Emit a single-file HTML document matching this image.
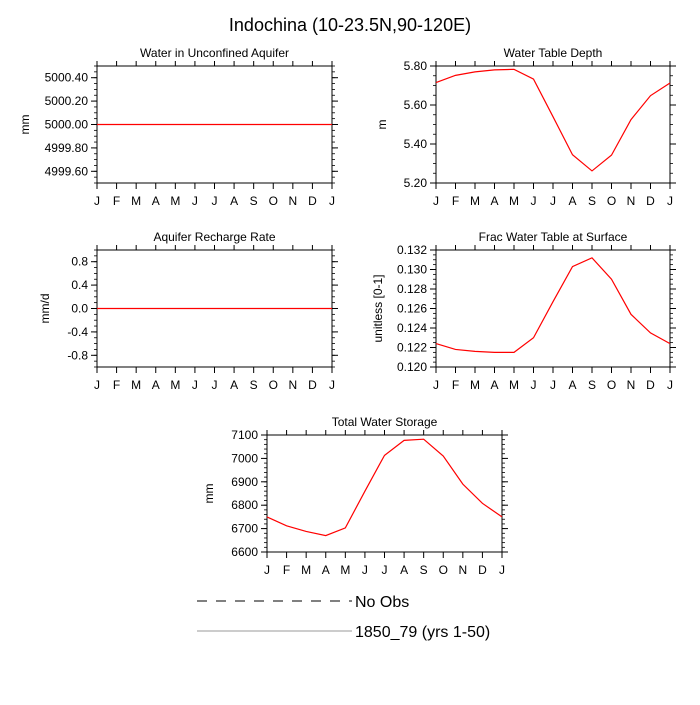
<!DOCTYPE html>
<html><head><meta charset="utf-8"><style>
body{margin:0;background:#fff}
svg{font-family:"Liberation Sans",sans-serif}
</style></head><body>
<svg id="c" width="700" height="700" viewBox="0 0 700 700">
<text x="350" y="31" text-anchor="middle" font-size="18">Indochina (10-23.5N,90-120E)</text>
<g>
<line x1="197" y1="601" x2="352" y2="601" stroke="#000" stroke-dasharray="10,9"/>
<text x="355" y="607" font-size="16">No Obs</text>
<line x1="197" y1="631" x2="352" y2="631" stroke="#999"/>
<text x="355" y="637" font-size="16">1850_79 (yrs 1-50)</text>
</g>
</svg>
<script>
const months=["J","F","M","A","M","J","J","A","S","O","N","D","J"];
const aquiferValues=[5000,5000,5000,5000,5000,5000,5000,5000,5000,5000,5000,5000,5000];
const wtdValues=[5.715,5.752,5.77,5.78,5.783,5.733,5.54,5.345,5.262,5.343,5.525,5.648,5.713];
const rechargeValues=[0,0,0,0,0,0,0,0,0,0,0,0,0];
const fracValues=[0.1224,0.1218,0.1216,0.1215,0.1215,0.1230,0.1267,0.1303,0.1312,0.1290,0.1254,0.1235,0.1224];
const twsValues=[6750,6712,6688,6670,6703,6860,7013,7077,7082,7010,6890,6808,6750];
const aquiferTicks=["5000.40","5000.20","5000.00","4999.80","4999.60"];
const wtdTicks=["5.80","5.60","5.40","5.20"];
const rechargeTicks=["0.8","0.4","0.0","-0.4","-0.8"];
const fracTicks=["0.132","0.130","0.128","0.126","0.124","0.122","0.120"];
const twsTicks=["7100","7000","6900","6800","6700","6600"];
const NS="http://www.w3.org/2000/svg";
const svg=document.getElementById('c');
function mk(t,a,p){const e=document.createElementNS(NS,t);for(const k in a)e.setAttribute(k,a[k]);(p||svg).appendChild(e);return e;}
function panel(name,x0,y0,w,h,title,yl,vals,ticks,ymin,ymax,minor,yw){
 const g=mk('g',{});
 
 
 const ys=v=>y0+h-(v-ymin)/(ymax-ymin)*h;
 const xs=i=>x0+i*w/12;
 const t=mk('text',{x:x0+w/2,y:y0-9,'text-anchor':'middle','font-size':12},g);t.textContent=title;
 
 
 const yt=mk('text',{transform:`translate(${x0-yw},${y0+h/2}) rotate(-90)`,'text-anchor':'middle','font-size':12},g);yt.textContent=yl;
 
 
 for(let v=ymin;v<=ymax+1e-9;v+=minor){const y=ys(v);mk('line',{x1:x0-3,x2:x0,y1:y,y2:y,stroke:'#000','stroke-width':0.8},g);mk('line',{x1:x0+w,x2:x0+w+3,y1:y,y2:y,stroke:'#000','stroke-width':0.8},g);}
 ticks.forEach(s=>{const v=parseFloat(s),y=ys(v);mk('line',{x1:x0-6,x2:x0,y1:y,y2:y,stroke:'#000'},g);mk('line',{x1:x0+w,x2:x0+w+6,y1:y,y2:y,stroke:'#000'},g);
  const l=mk('text',{x:x0-9,y:y+4,'text-anchor':'end','font-size':12},g);l.textContent=s;
  
  });
 months.forEach((m,i)=>{const x=xs(i);mk('line',{x1:x,x2:x,y1:y0+h,y2:y0+h+6,stroke:'#000'},g);mk('line',{x1:x,x2:x,y1:y0-5,y2:y0,stroke:'#000'},g);
  const l=mk('text',{x:x,y:y0+h+22,'text-anchor':'middle','font-size':12},g);l.textContent=m;
  
  });
 mk('rect',{x:x0,y:y0,width:w,height:h,fill:'none',stroke:'#000'},g);
 const pl=mk('polyline',{points:vals.map((v,i)=>xs(i)+','+ys(v)).join(' '),fill:'none',stroke:'#f00','stroke-width':1.2},g);
 
 
}
panel('water-unconfined-aquifer',97,66,235,117,'Water in Unconfined Aquifer','mm',aquiferValues,aquiferTicks,4999.5,5000.5,0.05,68);
panel('water-table-depth',436,66,234,117,'Water Table Depth','m',wtdValues,wtdTicks,5.2,5.8,0.05,50);
panel('aquifer-recharge-rate',97,250,235,117,'Aquifer Recharge Rate','mm/d',rechargeValues,rechargeTicks,-1,1,0.1,48);
panel('frac-water-table',436,250,234,117,'Frac Water Table at Surface','unitless [0-1]',fracValues,fracTicks,0.120,0.132,0.0005,54);
panel('total-water-storage',267,435,235,117,'Total Water Storage','mm',twsValues,twsTicks,6600,7100,20,54);
</script>
</body></html>
